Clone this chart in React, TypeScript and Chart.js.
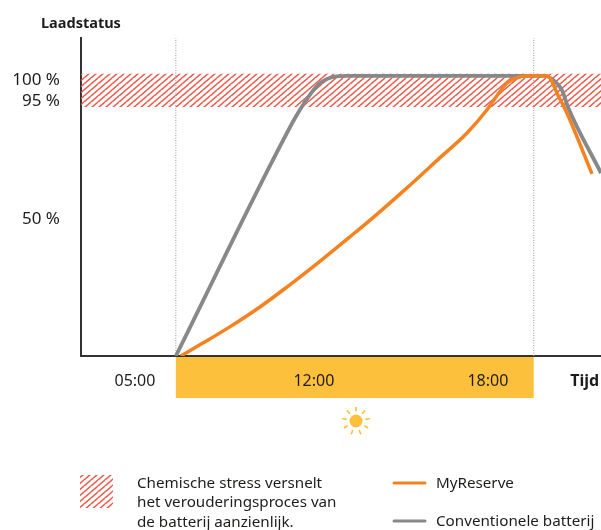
import React, { useEffect, useRef } from "react";
import { Chart, registerables } from "chart.js";

Chart.register(...registerables);

const FONT = '"Noto Sans", sans-serif';
const INK = "#1d1d1b";
const ORANGE = "#f58220";
const GRAY = "#87888a";
const RED = "#ee5b4c";
const SUN = "#fdc03d";

const xTickValues = [5.83, 12, 18, 21.34];
const xTickLabels = ["05:00", "12:00", "18:00", "Tijd"];
const yTickValues = [98.3, 91.1, 49.0];
const yTickLabels = ["100 %", "95 %", "50 %"];

const sunrise = 7.24;
const sunset = 19.58;
const stressTop = 100.7;
const stressBottom = 88.9;

const orangeHours = [7.41, 8.17, 9.1, 10.14, 11.07, 11.97, 13.24, 14.03, 15.21, 16.34, 17.28, 17.97, 18.41, 18.66, 19.1, 19.55, 19.97, 20.14, 20.38, 20.72, 21.59];
const orangeCharge = [0, 4.6, 10.4, 17.5, 24.6, 31.8, 42.5, 49.3, 60, 70.7, 79.6, 87.9, 94.3, 97.5, 99.6, 100, 100, 99.3, 93.9, 86.8, 65];
const grayHours = [7.24, 11.24, 11.52, 11.86, 12.14, 12.45, 12.79, 13.14, 19.97, 20.24, 20.55, 20.76, 21.9];
const grayCharge = [0, 82.9, 87.9, 93.2, 96.8, 98.9, 99.8, 100, 100, 98.6, 95, 88.9, 65.3];

function hatch(): CanvasPattern {
  const c = document.createElement("canvas");
  c.width = 7;
  c.height = 6;
  const g = c.getContext("2d")!;
  g.strokeStyle = RED;
  g.lineWidth = 1.5;
  g.beginPath();
  for (let k = -1; k <= 1; k++) {
    g.moveTo(-7 + k * 7, 12);
    g.lineTo(7 + k * 7, 0);
  }
  for (let k = -1; k <= 2; k++) {
    g.moveTo(k * 7 - 7, 6);
    g.lineTo(k * 7, 0);
  }
  g.stroke();
  return g.createPattern(c, "repeat")!;
}

const decor = {
  id: "decor",
  beforeDraw(chart: any) {
    const { ctx, scales } = chart;
    const x0 = scales.x.getPixelForValue(sunrise);
    const x1 = scales.x.getPixelForValue(sunset);
    ctx.save();
    ctx.fillStyle = SUN;
    ctx.fillRect(x0, 357, x1 - x0, 41);
    const cx = 356;
    const cy = 421;
    ctx.beginPath();
    ctx.arc(cx, cy, 6.5, 0, Math.PI * 2);
    ctx.fill();
    ctx.strokeStyle = SUN;
    ctx.lineWidth = 1.6;
    for (let i = 0; i < 9; i++) {
      const a = (i * 40 * Math.PI) / 180;
      ctx.beginPath();
      ctx.moveTo(cx + Math.sin(a) * 9.5, cy - Math.cos(a) * 9.5);
      ctx.lineTo(cx + Math.sin(a) * 14, cy - Math.cos(a) * 14);
      ctx.stroke();
    }
    ctx.fillStyle = hatch();
    ctx.fillRect(80, 475, 33, 33);
    ctx.lineCap = "round";
    ctx.lineWidth = 3;
    ctx.strokeStyle = ORANGE;
    ctx.beginPath();
    ctx.moveTo(394, 483);
    ctx.lineTo(425, 483);
    ctx.stroke();
    ctx.strokeStyle = GRAY;
    ctx.beginPath();
    ctx.moveTo(394, 521);
    ctx.lineTo(425, 521);
    ctx.stroke();
    ctx.restore();
  },
};

const pts = (xs: number[], ys: number[]) => xs.map((x, i) => ({ x, y: ys[i] }));

const text = (left: number, top: number, extra: React.CSSProperties = {}): React.CSSProperties => ({
  position: "absolute",
  left,
  top,
  fontFamily: FONT,
  fontSize: 15.2,
  lineHeight: "19.3px",
  color: INK,
  whiteSpace: "nowrap",
  ...extra,
});

export default function App() {
  const ref = useRef<HTMLCanvasElement>(null);

  useEffect(() => {
    const chart = new Chart(ref.current!, {
      type: "line",
      plugins: [decor],
      data: {
        datasets: [
          {
            label: "Stress",
            data: pts([3.97, 21.9], [stressTop, stressTop]),
            borderWidth: 0,
            pointRadius: 0,
            backgroundColor: hatch(),
            fill: { value: stressBottom },
            order: 5,
          },
          {
            label: "Zonsopgang",
            data: pts([sunrise, sunrise], [0, 113.5]),
            borderColor: "#9a9a9a",
            borderWidth: 1,
            borderDash: [1, 1.5],
            pointRadius: 0,
            order: 4,
          },
          {
            label: "Zonsondergang",
            data: pts([sunset, sunset], [0, 113.5]),
            borderColor: "#9a9a9a",
            borderWidth: 1,
            borderDash: [1, 1.5],
            pointRadius: 0,
            order: 4,
          },
          {
            label: "Conventionele batterij",
            data: pts(grayHours, grayCharge),
            borderColor: GRAY,
            borderWidth: 3.8,
            pointRadius: 0,
            cubicInterpolationMode: "monotone",
            order: 2,
          },
          {
            label: "MyReserve",
            data: pts(orangeHours, orangeCharge),
            borderColor: ORANGE,
            borderWidth: 3.5,
            pointRadius: 0,
            cubicInterpolationMode: "monotone",
            order: 1,
          },
        ],
      } as any,
      options: {
        animation: false,
        responsive: false,
        layout: { padding: { top: 38, right: 0, left: 0, bottom: 0 } },
        plugins: { legend: { display: false }, tooltip: { enabled: false } },
        scales: {
          x: {
            type: "linear",
            min: 3.97,
            max: 21.9,
            grid: { display: false },
            border: { display: true, color: "#333333", width: 2 },
            afterFit: (s: any) => {
              s.height = 174;
              s.paddingRight = 0;
              s.paddingLeft = 0;
            },
            afterBuildTicks: (s: any) => {
              s.ticks = xTickValues.map((value) => ({ value }));
            },
            ticks: {
              autoSkip: false,
              maxRotation: 0,
              padding: 8,
              color: INK,
              font: (c: any) => ({ family: FONT, size: 16, weight: c.index === 3 ? "bold" : "normal" }),
              callback: (_v: any, i: number) => xTickLabels[i],
            },
          },
          y: {
            type: "linear",
            min: 0,
            max: 113.5,
            grid: { display: false },
            border: { display: true, color: "#333333", width: 2 },
            afterFit: (s: any) => {
              s.width = 81;
              s.paddingTop = 0;
              s.paddingBottom = 0;
            },
            afterBuildTicks: (s: any) => {
              s.ticks = yTickValues.map((value) => ({ value }));
            },
            ticks: {
              autoSkip: false,
              padding: 13,
              color: INK,
              font: { family: FONT, size: 17 },
              callback: (_v: any, i: number) => yTickLabels[i],
            },
          },
        },
      },
    } as any);
    return () => chart.destroy();
  }, []);

  return (
    <div style={{ position: "absolute", left: 0, top: 0, width: 601, height: 530, overflow: "hidden", background: "#fff" }}>
      <canvas ref={ref} width={601} height={530} style={{ display: "block" }} />
      <div style={text(41, 13, { fontWeight: 700, fontSize: 14.5 })}>Laadstatus</div>
      <div style={text(137, 473)}>
        Chemische stress versnelt
        <br />
        het verouderingsproces van
        <br />
        de batterij aanzienlijk.
      </div>
      <div style={text(436, 473)}>MyReserve</div>
      <div style={text(436, 511)}>Conventionele batterij</div>
    </div>
  );
}
